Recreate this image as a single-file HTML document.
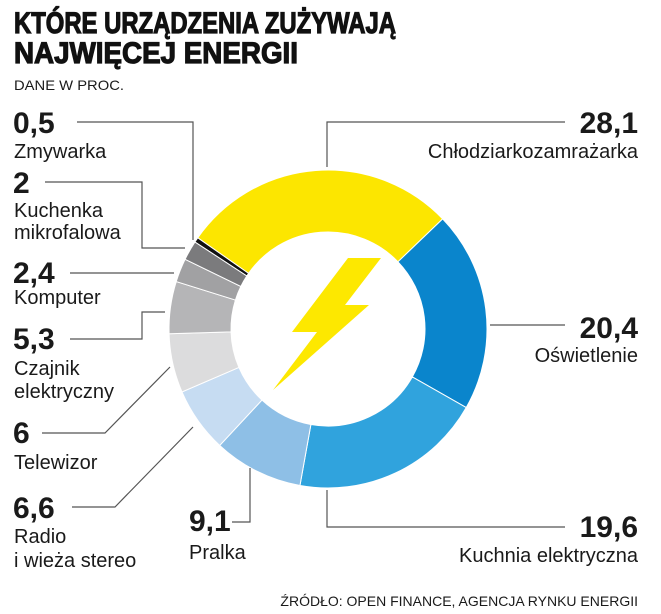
<!DOCTYPE html>
<html><head><meta charset="utf-8"><style>
html,body{margin:0;padding:0;background:#fff;width:661px;height:614px;overflow:hidden}
svg{display:block}
.n{font-family:"Liberation Sans Narrow","Liberation Sans",sans-serif;font-weight:bold;font-size:30px;fill:#1a1a1a}
.l{font-family:"Liberation Sans Narrow","Liberation Sans",sans-serif;font-size:20px;fill:#1a1a1a}
.t{font-family:"Liberation Sans Narrow","Liberation Sans",sans-serif;font-weight:bold;font-size:30px;fill:#111;stroke:#111;stroke-width:1.2}
.s{font-family:"Liberation Sans Narrow","Liberation Sans",sans-serif;font-size:14px;fill:#1a1a1a}
line,polyline{stroke:#555;stroke-width:1.2;fill:none}
</style></head><body>
<svg id="c" width="661" height="614" viewBox="0 0 661 614">
<text class="t" x="14" y="33" textLength="382" lengthAdjust="spacingAndGlyphs">KTÓRE URZĄDZENIA ZUŻYWAJĄ</text>
<text class="t" x="14" y="63" textLength="284" lengthAdjust="spacingAndGlyphs">NAJWIĘCEJ ENERGII</text>
<text class="s" x="14" y="90" textLength="110" lengthAdjust="spacingAndGlyphs">DANE W PROC.</text>
<g id="donut"></g>
<polygon points="348,258 381,258 345,305 369,305 273,390 317,332 292,332" fill="#fde800"/>
<polyline points="77,122 193,122 193,240"/>
<polyline points="45,182 142,182 142,248 185,248"/>
<line x1="70" y1="273" x2="174" y2="273"/>
<polyline points="70,339 142,339 142,312 165,312"/>
<polyline points="42,433 105,433 170,367"/>
<polyline points="72,507 115,507 193,427"/>
<polyline points="232,522 250,522 250,468"/>
<polyline points="327,167 327,122 565,122"/>
<line x1="490" y1="325" x2="565" y2="325"/>
<polyline points="327,490 327,527 565,527"/>
<text class="n" x="13" y="133">0,5</text>
<text class="l" x="14" y="158">Zmywarka</text>
<text class="n" x="13" y="193">2</text>
<text class="l" x="14" y="217">Kuchenka</text>
<text class="l" x="14" y="239">mikrofalowa</text>
<text class="n" x="13" y="283">2,4</text>
<text class="l" x="14" y="304">Komputer</text>
<text class="n" x="13" y="349">5,3</text>
<text class="l" x="14" y="375">Czajnik</text>
<text class="l" x="14" y="398">elektryczny</text>
<text class="n" x="13" y="443">6</text>
<text class="l" x="14" y="469">Telewizor</text>
<text class="n" x="13" y="518">6,6</text>
<text class="l" x="14" y="543">Radio</text>
<text class="l" x="14" y="567">i wieża stereo</text>
<text class="n" x="189" y="531">9,1</text>
<text class="l" x="189" y="559">Pralka</text>
<text class="n" x="638" y="133" text-anchor="end">28,1</text>
<text class="l" x="638" y="158" text-anchor="end">Chłodziarkozamrażarka</text>
<text class="n" x="638" y="338" text-anchor="end">20,4</text>
<text class="l" x="638" y="362" text-anchor="end">Oświetlenie</text>
<text class="n" x="638" y="537" text-anchor="end">19,6</text>
<text class="l" x="638" y="562" text-anchor="end">Kuchnia elektryczna</text>
<text class="s" x="638" y="606" text-anchor="end">ŹRÓDŁO: OPEN FINANCE, AGENCJA RYNKU ENERGII</text>
</svg>
<script>
(function(){
var cx=328,cy=329,R=159,r=97,a=-55;
var d=[[28.1,"#fce600"],[20.4,"#0a85cc"],[19.6,"#30a3dd"],[9.1,"#8ebfe6"],[6.6,"#c6dcf2"],[6,"#dcdcdd"],[5.3,"#b5b5b7"],[2.4,"#a1a1a3"],[2,"#7b7b7d"],[0.5,"#111"]];
var tot=0;d.forEach(function(x){tot+=x[0]});
var g=document.getElementById("donut"),s="";
function p(ang,rad){var t=(ang-90)*Math.PI/180;return (cx+rad*Math.cos(t)).toFixed(2)+","+(cy+rad*Math.sin(t)).toFixed(2);}
d.forEach(function(x){var sp=x[0]/tot*360,b=a+sp,lg=sp>180?1:0;
s+='<path d="M'+p(a,R)+' A'+R+','+R+' 0 '+lg+' 1 '+p(b,R)+' L'+p(b,r)+' A'+r+','+r+' 0 '+lg+' 0 '+p(a,r)+' Z" fill="'+x[1]+'" stroke="#fff" stroke-width="1"/>';a=b;});
g.innerHTML=s;
})();
</script>
</body></html>
